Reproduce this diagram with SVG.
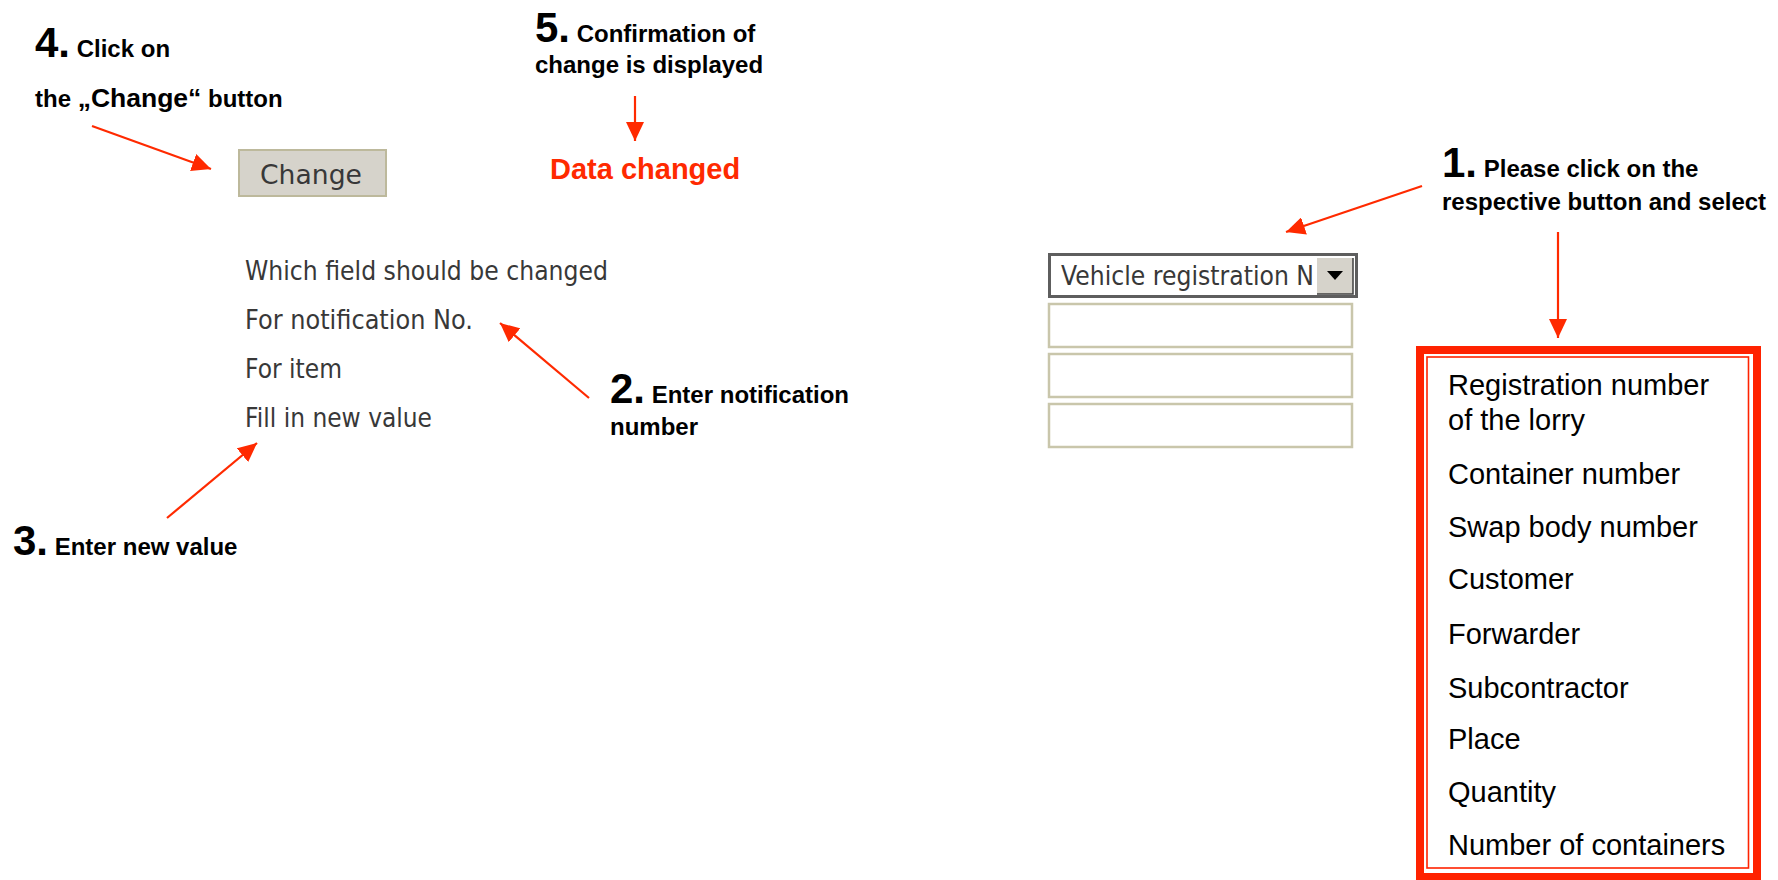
<svg xmlns="http://www.w3.org/2000/svg" width="1778" height="880" viewBox="0 0 1778 880">
<defs>
<style>
.lbl{font-family:"Liberation Sans",Arial,sans-serif;font-weight:bold;font-size:24px;fill:#000}
.num{font-size:42px}
.ui{font-family:"DejaVu Sans",Tahoma,sans-serif;font-size:27px;fill:#383838}
.item{font-family:"Liberation Sans",Arial,sans-serif;font-size:29px;fill:#000}
.conn{stroke:#ff2a00;stroke-width:2.2;fill:none;marker-end:url(#ah)}
.field{fill:#fff;stroke:#c9c6ab;stroke-width:2.5}
</style>
<marker id="ah" markerUnits="userSpaceOnUse" markerWidth="20" markerHeight="18" refX="19" refY="9" orient="auto">
<path d="M0,0 L19,9 L0,18 z" fill="#ff2a00"/>
</marker>
</defs>
<rect width="1778" height="880" fill="#fff"/>

<g id="step4">
<text class="lbl" x="35" y="57"><tspan class="num">4.</tspan> Click on</text>
<text class="lbl" x="35" y="107">the <tspan font-size="26.5">„Change“</tspan> button</text>
</g>

<g id="change-button">
<rect x="239" y="150" width="147" height="46" fill="#d6d3cb" stroke="#bdb99c" stroke-width="2"/>
<text class="ui" x="260" y="184" textLength="102" lengthAdjust="spacingAndGlyphs" font-size="29" fill="#222">Change</text>
</g>

<g id="step5">
<text class="lbl" x="535" y="42"><tspan class="num">5.</tspan> Confirmation of</text>
<text class="lbl" x="535" y="73">change is displayed</text>
</g>

<g id="data-changed">
<text x="550" y="179" font-family="Liberation Sans,Arial,sans-serif" font-weight="bold" font-size="29" fill="#ff2a00">Data changed</text>
</g>

<g id="form-labels">
<text class="ui" x="245" y="280" textLength="363" lengthAdjust="spacingAndGlyphs">Which field should be changed</text>
<text class="ui" x="245" y="329" textLength="228" lengthAdjust="spacingAndGlyphs">For notification No.</text>
<text class="ui" x="245" y="378" textLength="97" lengthAdjust="spacingAndGlyphs">For item</text>
<text class="ui" x="245" y="427" textLength="187" lengthAdjust="spacingAndGlyphs">Fill in new value</text>
</g>

<g id="step2">
<text class="lbl" x="610" y="403"><tspan class="num">2.</tspan> Enter notification</text>
<text class="lbl" x="610" y="435">number</text>
</g>

<g id="step3">
<text class="lbl" x="13" y="555"><tspan class="num">3.</tspan> Enter new value</text>
</g>

<g id="dropdown">
<rect x="1049.5" y="254.5" width="307" height="42" fill="#fff" stroke="#5e5e5e" stroke-width="3"/>
<rect x="1317" y="258" width="36" height="36" fill="#d6d3cb"/>
<path d="M1317,294 H1353 V258" fill="none" stroke="#404040" stroke-width="1.5"/>
<path d="M1327,271 H1343 L1335,280 z" fill="#000"/>
<text class="ui" x="1061" y="285" textLength="253" lengthAdjust="spacingAndGlyphs" fill="#111">Vehicle registration N</text>
</g>

<g id="input-fields">
<rect class="field" x="1049" y="304" width="303" height="43"/>
<rect class="field" x="1049" y="354" width="303" height="43"/>
<rect class="field" x="1049" y="404" width="303" height="43"/>
</g>

<g id="step1">
<text class="lbl" x="1442" y="177"><tspan class="num">1.</tspan> Please click on the</text>
<text class="lbl" x="1442" y="210">respective button and select</text>
</g>

<g id="options-box">
<rect x="1420" y="350" width="337" height="527" fill="#fff" stroke="#ff2200" stroke-width="8"/>
<rect x="1427" y="357" width="321.5" height="511" fill="none" stroke="#ff2200" stroke-width="1.6"/>
<text class="item" x="1448" y="395">Registration number</text>
<text class="item" x="1448" y="430">of the lorry</text>
<text class="item" x="1448" y="484">Container number</text>
<text class="item" x="1448" y="537">Swap body number</text>
<text class="item" x="1448" y="589">Customer</text>
<text class="item" x="1448" y="644">Forwarder</text>
<text class="item" x="1448" y="698">Subcontractor</text>
<text class="item" x="1448" y="749">Place</text>
<text class="item" x="1448" y="802">Quantity</text>
<text class="item" x="1448" y="855">Number of containers</text>
</g>

<g id="connectors">
<line class="conn" x1="92" y1="126" x2="211" y2="169"/>
<line class="conn" x1="635" y1="96" x2="635" y2="141"/>
<line class="conn" x1="589" y1="398" x2="500" y2="323"/>
<line class="conn" x1="167" y1="518" x2="257" y2="443"/>
<line class="conn" x1="1422" y1="186" x2="1286" y2="232"/>
<line class="conn" x1="1558" y1="232" x2="1558" y2="338"/>
</g>
</svg>
